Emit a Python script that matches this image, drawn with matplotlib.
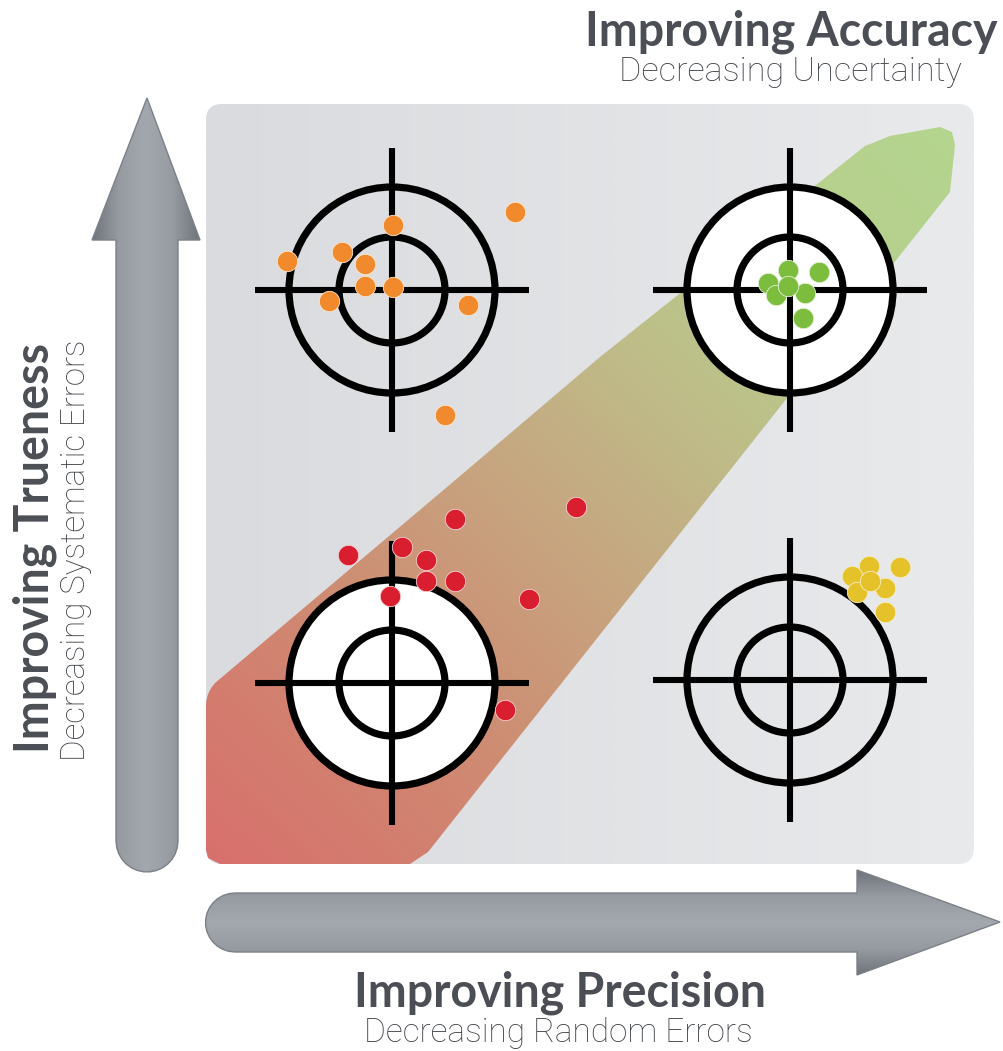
import numpy as np
import matplotlib.pyplot as plt
from matplotlib.patches import Circle, FancyBboxPatch, Polygon
from matplotlib.colors import LinearSegmentedColormap

# target centres (pixel coords of the figure)
target_x = [392, 790, 392, 790]
target_y = [290, 290, 683, 680]
target_filled = [False, True, True, False]

# shot groups
orange_x = [515, 393, 342, 287, 365, 365, 393, 329, 468, 445]
orange_y = [212, 225, 252, 261, 264, 286, 287, 301, 305, 415]
green_x = [788, 819, 768, 805, 776, 788, 803]
green_y = [270, 272, 283, 293, 295, 286, 318]
red_x = [576, 455, 402, 348, 426, 426, 455, 390, 529, 505]
red_y = [507, 519, 547, 555, 560, 581, 581, 596, 599, 710]
yellow_x = [869, 900, 852, 857, 885, 870, 885]
yellow_y = [566, 567, 576, 592, 588, 581, 612]

W, H = 1004, 1051
fig = plt.figure(figsize=(W / 100, H / 100), dpi=100)
ax = fig.add_axes([0, 0, 1, 1])
ax.set_xlim(0, W)
ax.set_ylim(H, 0)
ax.axis('off')

text_col = '#4b4f55'


def grad_fill(patch, cmap, direction, extent, z):
    # gradient image clipped to a patch
    ax.add_patch(patch)
    x0, x1, y0, y1 = extent
    xx, yy = np.meshgrid(np.linspace(0, 1, 300), np.linspace(0, 1, 300))
    if direction == 'diag':
        g = (xx + yy) / 2
    elif direction == 'x':
        g = xx
    elif direction == 'xmid':
        g = 1 - np.abs(xx - 0.5) * 2
    else:
        g = 1 - np.abs(yy - 0.5) * 2
    im = ax.imshow(g, cmap=cmap, extent=[x0, x1, y0, y1], origin='lower',
                   aspect='auto', zorder=z, interpolation='bilinear')
    im.set_clip_path(patch)


def arc(cx, cy, r, a0, a1, n=12):
    t = np.radians(np.linspace(a0, a1, n))
    return [(cx + r * np.cos(a), cy + r * np.sin(a)) for a in t]


# panel background
panel = FancyBboxPatch((206, 104), 768, 760, boxstyle='round,pad=0,rounding_size=16',
                       facecolor='none', edgecolor='none', zorder=1)
panel_cmap = LinearSegmentedColormap.from_list('p', ['#d9dbde', '#e9eaec'])
grad_fill(panel, panel_cmap, 'x', (206, 974, 104, 864), 1)

# diagonal band
band_pts = ([(206, 850), (206, 706)] + arc(240, 706, 34, 180, 222, 6)[1:] +
            [(453, 482), (600, 357), (865, 146), (890, 136), (940, 127), (952, 132),
             (955, 145), (950, 192), (428, 852), (410, 864), (220, 864), (208, 858)])
band = Polygon(band_pts, closed=True, facecolor='none', edgecolor='none', zorder=2)
band_cmap = LinearSegmentedColormap.from_list(
    'b', [(0.0, '#d8706c'), (0.25, '#cf8a72'), (0.45, '#c7a47f'),
          (0.62, '#bfbb88'), (0.78, '#b8cc8c'), (1.0, '#b4d68f')])
grad_fill(band, band_cmap, 'diag', (206, 955, 864, 127), 2)

# arrows
arrow_cmap = LinearSegmentedColormap.from_list('a', ['#6e747a', '#959ba1', '#a2a8ad'])
v_pts = ([(147, 98), (200, 240), (178, 240)] + arc(147, 841, 31, 0, 180, 16) +
         [(116, 240), (92, 240)])
v_arrow = Polygon(v_pts, closed=True, facecolor='none', edgecolor='none', zorder=2)
grad_fill(v_arrow, arrow_cmap, 'xmid', (92, 200, 872, 98), 2)
ax.add_patch(Polygon(v_pts, closed=True, facecolor='none', edgecolor='#7b8187', lw=1, zorder=3))

h_pts = ([(1000, 922), (857, 975), (857, 952)] + arc(235, 922.5, 29.5, 90, 270, 16) +
         [(857, 893), (857, 870)])
h_arrow = Polygon(h_pts, closed=True, facecolor='none', edgecolor='none', zorder=2)
grad_fill(h_arrow, arrow_cmap, 'ymid', (205, 1000, 975, 870), 2)
ax.add_patch(Polygon(h_pts, closed=True, facecolor='none', edgecolor='#7b8187', lw=1, zorder=3))

# targets
for cx, cy, filled in zip(target_x, target_y, target_filled):
    if filled:
        ax.add_patch(Circle((cx, cy), 103, facecolor='white', edgecolor='none', zorder=4))
    ax.add_patch(Circle((cx, cy), 103, facecolor='none', edgecolor='black', lw=5.2, zorder=5))
    ax.add_patch(Circle((cx, cy), 53, facecolor='none', edgecolor='black', lw=5.2, zorder=5))
    ax.plot([cx - 137, cx + 137], [cy, cy], color='black', lw=4.4, zorder=5,
            solid_capstyle='butt')
    ax.plot([cx, cx], [cy - 142, cy + 142], color='black', lw=4.4, zorder=5,
            solid_capstyle='butt')

# shots
s = 215
ax.scatter(orange_x, orange_y, s=s, color='#f08a2c', edgecolor='#fbe6d0', lw=0.6, zorder=6)
ax.scatter(green_x, green_y, s=s, color='#7cbd3e', edgecolor='#e4f0d8', lw=0.6, zorder=6)
ax.scatter(red_x, red_y, s=s, color='#d91f2f', edgecolor='#f5d0d2', lw=0.6, zorder=6)
ax.scatter(yellow_x, yellow_y, s=s, color='#e5c22a', edgecolor='#f6ecc0', lw=0.6, zorder=6)

# labels
bold = dict(family=['Lato', 'DejaVu Sans'], fontweight='bold', color=text_col)
light = dict(family=['Roboto', 'DejaVu Sans'], fontweight='light', color='#3f4348')

ax.text(998, 32, 'Improving Accuracy', fontsize=33.5, ha='right', va='center', **bold)
ax.text(790, 72, 'Decreasing Uncertainty', fontsize=24.6, ha='center', va='center', **light)
ax.text(560, 993, 'Improving Precision', fontsize=33.5, ha='center', va='center', **bold)
ax.text(558, 1033, 'Decreasing Random Errors', fontsize=24.0, ha='center', va='center', **light)
ax.text(35, 548, 'Improving Trueness', fontsize=33.5, ha='center', va='center',
        rotation=90, **bold)
ax.text(76, 550, 'Decreasing Systematic Errors', fontsize=23.8, ha='center', va='center',
        rotation=90, **light)

fig.savefig('out.png', dpi=100, facecolor='white')
